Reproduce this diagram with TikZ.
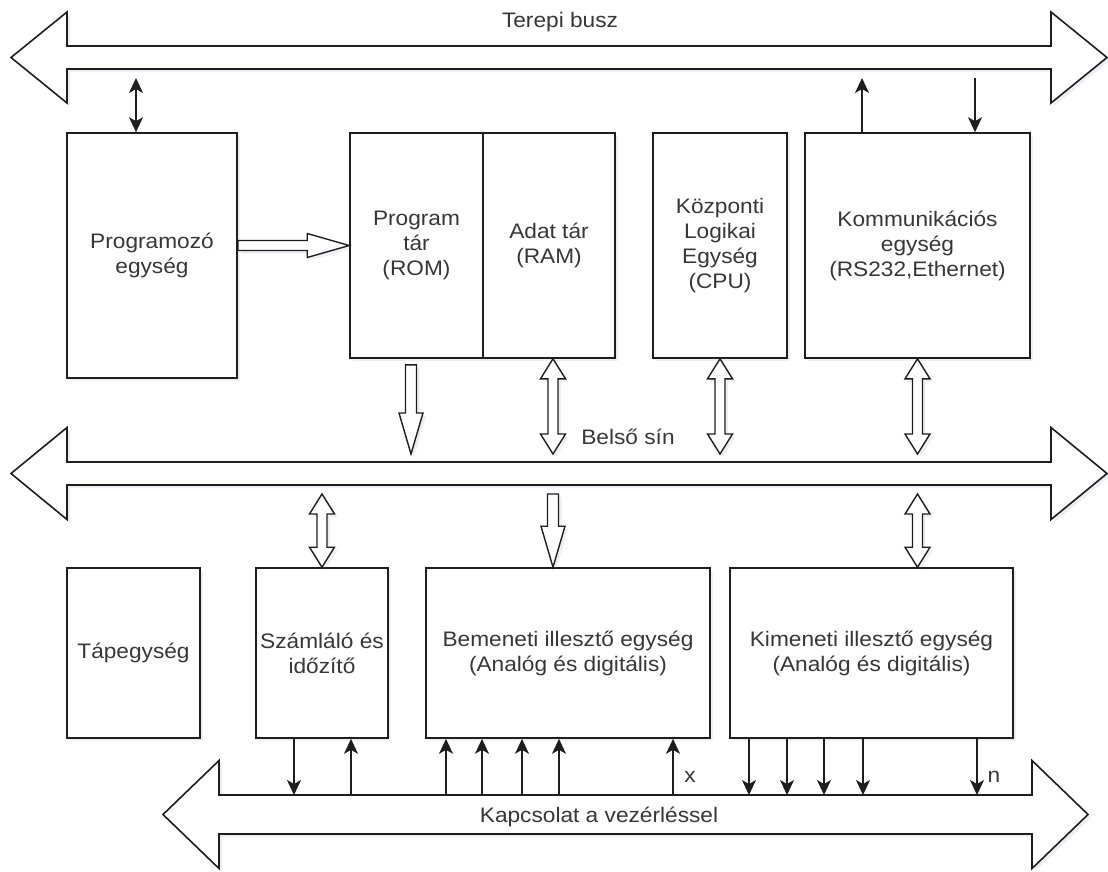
\documentclass[tikz,border=0pt]{standalone}
\usepackage{fontspec}
\setmainfont{Liberation Sans}[FakeStretch=1.08]
\usetikzlibrary{calc,arrows.meta,shadows}
\definecolor{txt}{RGB}{55,55,55}
\definecolor{ln}{RGB}{30,30,30}
\definecolor{shd}{RGB}{110,120,170}
% wide bus: left tip x, right tip x, centre y, half shaft, half head, head length
\newcommand{\busarrow}[6]{%
  \draw[bus] (#1,#3) -- ({#1+#6},{#3-#5}) -- ({#1+#6},{#3-#4}) -- ({#2-#6},{#3-#4})
    -- ({#2-#6},{#3-#5}) -- (#2,#3) -- ({#2-#6},{#3+#5}) -- ({#2-#6},{#3+#4})
    -- ({#1+#6},{#3+#4}) -- ({#1+#6},{#3+#5}) -- cycle;}
\newcommand{\hollowdown}[2]{%
  \draw[blockarrow] ($(#1)+(-5.5,0)$) -- ($(#2)+(-5.5,-41)$) -- ($(#2)+(-12,-41)$) -- (#2)
    -- ($(#2)+(12,-41)$) -- ($(#2)+(5.5,-41)$) -- ($(#1)+(5.5,0)$) -- cycle;}
\newcommand{\hollowboth}[2]{%
  \draw[blockarrow] (#1) -- ($(#1)+(12.5,20)$) -- ($(#1)+(5,20)$) -- ($(#2)+(5,-20)$)
    -- ($(#2)+(12.5,-20)$) -- (#2) -- ($(#2)+(-12.5,-20)$) -- ($(#2)+(-5,-20)$)
    -- ($(#1)+(-5,20)$) -- ($(#1)+(-12.5,20)$) -- cycle;}
\newcommand{\hollowright}[2]{%
  \draw[blockarrow] ($(#1)+(0,-5)$) -- ($(#2)+(-42,-5)$) -- ($(#2)+(-42,-12)$) -- (#2)
    -- ($(#2)+(-42,12)$) -- ($(#2)+(-42,5)$) -- ($(#1)+(0,5)$) -- cycle;}
\tikzset{
  softshadow/.style={drop shadow={shadow xshift=3pt,shadow yshift=-3pt,opacity=0.12,fill=shd}},
  every node/.style={font=\fontsize{21}{25}\selectfont, text=txt},
  box/.style={draw=ln, line width=1.6pt, fill=white, inner sep=0pt, align=center, softshadow},
  bus/.style={draw=ln, line width=1.6pt, fill=white, line join=miter, softshadow},
  blockarrow/.style={draw=ln, line width=1.4pt, fill=white, line join=miter, softshadow},
  thinarrow/.style={draw=ln, line width=1.6pt},
  tip/.tip={Stealth[length=15pt,width=14pt,inset=4pt]}
}
\begin{document}
\begin{tikzpicture}[x=1pt,y=-1pt]
\useasboundingbox (0,0) rectangle (1108,871);
% buses
\busarrow{11}{1107}{57.5}{11.5}{45.5}{56}
\busarrow{11}{1107}{473.5}{11.5}{46}{56}
\busarrow{163}{1088}{814.5}{19.5}{54}{56}
\coordinate (tb) at (0,78);
\coordinate (ibin) at (0,454);
\coordinate (ibout) at (0,494);
\coordinate (kb) at (0,795);
% units
\node[box, minimum width=170, minimum height=245] (prog) at (152,255.5) {Programozó\\egység};
\node[box, minimum width=133, minimum height=225] (rom) at (416.5,245.5) {Program\\tár\\(ROM)};
\node[box, minimum width=132, minimum height=225] (adat) at (549,245.5) {Adat tár\\(RAM)};
\node[box, minimum width=134, minimum height=225] (cpu) at (720,245.5) {Központi\\Logikai\\Egység\\(CPU)};
\node[box, minimum width=225, minimum height=225] (komm) at (917.5,245.5) {Kommunikációs\\egység\\(RS232,Ethernet)};
\node[box, minimum width=133, minimum height=170] (tap) at (133.5,653) {Tápegység};
\node[box, minimum width=132, minimum height=170] (szam) at (322,653) {Számláló és\\időzítő};
\node[box, minimum width=284, minimum height=170] (bem) at (568,653) {Bemeneti illesztő egység\\(Analóg és digitális)};
\node[box, minimum width=283, minimum height=170] (kim) at (871.5,653) {Kimeneti illesztő egység\\(Analóg és digitális)};
% field bus links
\draw[thinarrow, tip-tip] (prog.north -| 136,0) -- (tb -| 136,0);
\draw[thinarrow, -tip] (komm.north -| 862,0) -- (tb -| 862,0);
\draw[thinarrow, -tip] (tb -| 975,0) -- (komm.north -| 975,0);
% internal bus links
\coordinate (romp) at ($(rom.south)+(-5.5,6)$);
\coordinate (adatp) at ($(adat.south)+(4,0)$);
\hollowright{rom.west -| prog.east}{rom.west}
\hollowdown{romp}{romp |- ibin}
\hollowboth{adatp}{adatp |- ibin}
\hollowboth{cpu.south}{cpu.south |- ibin}
\hollowboth{komm.south}{komm.south |- ibin}
\hollowboth{szam.north |- ibout}{szam.north}
\hollowdown{adatp |- ibout}{adatp |- bem.north}
\hollowboth{komm.south |- ibout}{komm.south |- kim.north}
% control links
\draw[thinarrow, -tip] (szam.south -| 294,0) -- (kb -| 294,0);
\draw[thinarrow, -tip] (kb -| 351,0) -- (szam.south -| 351,0);
\foreach \x in {446,482,522,559,673}
  \draw[thinarrow, -tip] (kb -| \x,0) -- (bem.south -| \x,0);
\foreach \x in {749,787,824,863,977}
  \draw[thinarrow, -tip] (kim.south -| \x,0) -- (kb -| \x,0);
% labels
\node (tbl) at (560,22) {Terepi busz};
\node (ibl) at (628,437) {Belső sín};
\node[fill=white, inner sep=1pt] (kbl) at (599,817) {Kapcsolat a vezérléssel};
\node (xl) at (690,777) {x};
\node (nl) at (994,777) {n};
\end{tikzpicture}
\end{document}
